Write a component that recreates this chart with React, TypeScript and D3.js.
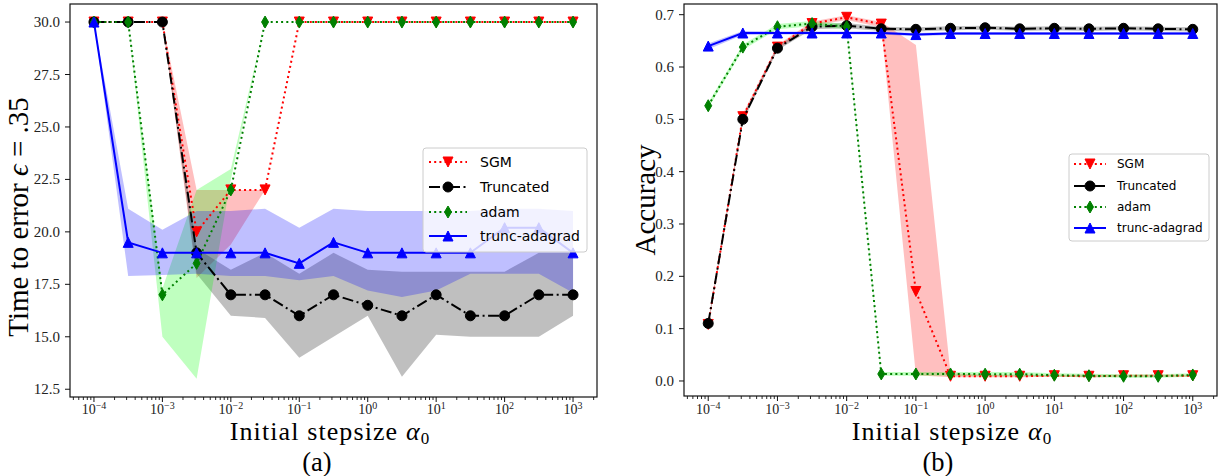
import React from 'react';
import * as d3 from 'd3';

// ---------- data ----------
const stepsizes = [1e-4, 3.162e-4, 1e-3, 3.162e-3, 1e-2, 3.162e-2, 0.1, 0.3162, 1, 3.162, 10, 31.62, 100, 316.2, 1000];
const xTickExponents = [-4, -3, -2, -1, 0, 1, 2, 3];
const seriesNames = ['SGM', 'Truncated', 'adam', 'trunc-adagrad'];

// (a) time to error
const timeSGM = [30, 30, 30, 20, 22, 22, 30, 30, 30, 30, 30, 30, 30, 30, 30];
const timeSGMLo = [30, 30, 30, 17.8, 19.4, 22, 30, 30, 30, 30, 30, 30, 30, 30, 30];
const timeSGMHi = [30, 30, 30, 22, 22, 22, 30, 30, 30, 30, 30, 30, 30, 30, 30];
const timeTrunc = [30, 30, 30, 19, 17, 17, 16, 17, 16.5, 16, 17, 16, 16, 17, 17];
const timeTruncLo = [30, 30, 30, 18, 16, 15.9, 14, 15, 16, 13.1, 15.1, 15, 15, 15, 16];
const timeTruncHi = [30, 30, 30, 19.2, 18.2, 19, 18, 19, 18.2, 18.1, 18.1, 18.1, 18.1, 19, 19];
const timeAdam = [30, 30, 17, 18.5, 22, 30, 30, 30, 30, 30, 30, 30, 30, 30, 30];
const timeAdamLo = [30, 30, 15, 13, 22.5, 30, 30, 30, 30, 30, 30, 30, 30, 30, 30];
const timeAdamHi = [30, 30, 17.3, 22, 23, 30, 30, 30, 30, 30, 30, 30, 30, 30, 30];
const timeAda = [30, 19.5, 19, 19, 19, 19, 18.5, 19.5, 19, 19, 19, 19, 20.2, 20.2, 19];
const timeAdaLo = [30, 17.9, 17.95, 18, 17.9, 17.9, 17.7, 17.9, 17.2, 16.9, 17.2, 18, 18, 18, 17.1];
const timeAdaHi = [30, 21.1, 20.1, 21, 21, 21.1, 20.2, 21.1, 21, 21, 21, 21, 21.1, 21.1, 21];
const timeYTicks = [12.5, 15, 17.5, 20, 22.5, 25, 27.5, 30];

// (b) accuracy
const accSGM = [0.108, 0.505, 0.638, 0.683, 0.695, 0.682, 0.171, 0.009, 0.009, 0.009, 0.010, 0.009, 0.010, 0.010, 0.010];
const accSGMLo = [0.104, 0.500, 0.634, 0.679, 0.690, 0.676, 0.011, 0.007, 0.007, 0.007, 0.008, 0.007, 0.008, 0.008, 0.008];
const accSGMHi = [0.112, 0.510, 0.642, 0.687, 0.699, 0.686, 0.642, 0.015, 0.012, 0.012, 0.012, 0.012, 0.012, 0.012, 0.012];
const accTrunc = [0.110, 0.500, 0.636, 0.677, 0.679, 0.673, 0.672, 0.674, 0.675, 0.673, 0.674, 0.673, 0.674, 0.673, 0.672];
const accTruncLo = [0.106, 0.495, 0.632, 0.672, 0.674, 0.669, 0.668, 0.670, 0.671, 0.669, 0.670, 0.669, 0.670, 0.669, 0.668];
const accTruncHi = [0.114, 0.505, 0.640, 0.682, 0.684, 0.677, 0.676, 0.678, 0.679, 0.677, 0.678, 0.677, 0.678, 0.677, 0.676];
const accAdam = [0.526, 0.638, 0.677, 0.683, 0.677, 0.0134, 0.0134, 0.0134, 0.013, 0.013, 0.011, 0.010, 0.009, 0.009, 0.0115];
const accAdamLo = [0.521, 0.633, 0.672, 0.678, 0.672, 0.010, 0.010, 0.010, 0.009, 0.009, 0.008, 0.007, 0.006, 0.006, 0.008];
const accAdamHi = [0.531, 0.643, 0.682, 0.688, 0.682, 0.017, 0.017, 0.017, 0.017, 0.017, 0.015, 0.014, 0.013, 0.013, 0.015];
const accAda = [0.640, 0.665, 0.665, 0.665, 0.665, 0.665, 0.662, 0.664, 0.664, 0.664, 0.664, 0.664, 0.664, 0.664, 0.664];
const accAdaLo = [0.634, 0.661, 0.662, 0.662, 0.662, 0.662, 0.659, 0.661, 0.661, 0.661, 0.661, 0.661, 0.661, 0.661, 0.661];
const accAdaHi = [0.645, 0.669, 0.668, 0.668, 0.668, 0.668, 0.665, 0.667, 0.667, 0.667, 0.667, 0.667, 0.667, 0.667, 0.667];
const accYTicks = [0, 0.1, 0.2, 0.3, 0.4, 0.5, 0.6, 0.7];

// ---------- styles ----------
const styles = [
  { color: '#ff0000', fill: 'rgba(255,0,0,0.25)', dash: '2,3.2', marker: 'v' },
  { color: '#000000', fill: 'rgba(0,0,0,0.25)', dash: '11,3.5,2,3.5', marker: 'o' },
  { color: '#008000', fill: 'rgba(0,255,0,0.25)', dash: '2,3.2', marker: 'd' },
  { color: '#0000ff', fill: 'rgba(0,0,255,0.25)', dash: null, marker: '^' },
];

const SERIF = '"Liberation Serif", "DejaVu Serif", serif';
const SANS = '"DejaVu Sans", sans-serif';

function Marker({ type, cx, cy, color, s = 10 }) {
  const h = s / 2;
  if (type === 'o') return <circle cx={cx} cy={cy} r={h} fill={color} stroke={color} strokeWidth={1} />;
  let pts;
  if (type === 'v') pts = [[cx - h, cy - h], [cx + h, cy - h], [cx, cy + h]];
  else if (type === '^') pts = [[cx, cy - h], [cx - h, cy + h], [cx + h, cy + h]];
  else pts = [[cx, cy - h - 1], [cx + 0.35 * s, cy], [cx, cy + h + 1], [cx - 0.35 * s, cy]];
  return <polygon points={pts.map(p => p.join(',')).join(' ')} fill={color} stroke={color} strokeWidth={1} strokeLinejoin="miter" />;
}

function Panel(props) {
  const { x0, x1, y0, y1, yDomain, yTicks, yFmt, series, legend, ylabel, ylabelPos, xlabelX, caption, captionX } = props;
  const x = d3.scaleLog().domain([Math.pow(10, -4.35), Math.pow(10, 3.35)]).range([x0, x1]);
  const y = d3.scaleLinear().domain(yDomain).range([y1, y0]);
  const minor = [];
  for (let e = -5; e <= 3; e++) for (let m = 2; m <= 9; m++) {
    const v = m * Math.pow(10, e);
    if (x(v) > x0 && x(v) < x1) minor.push(v);
  }
  const line = d3.line().x((_, i) => x(stepsizes[i])).y(d => y(d));
  return (
    <g>
      {series.map((s, k) => {
        const area = d3.area().x((_, i) => x(stepsizes[i])).y0((_, i) => y(s.lo[i])).y1(d => y(d));
        return <path key={'a' + k} d={area(s.hi)} fill={styles[k].fill} stroke="none" />;
      })}
      {series.map((s, k) => (
        <g key={'l' + k}>
          <path d={line(s.mean)} fill="none" stroke={styles[k].color} strokeWidth={2}
            strokeDasharray={styles[k].dash || undefined} />
          {s.mean.map((v, i) => (
            <Marker key={i} type={styles[k].marker} cx={x(stepsizes[i])} cy={y(v)} color={styles[k].color} />
          ))}
        </g>
      ))}
      {/* frame */}
      <rect x={x0} y={y0} width={x1 - x0} height={y1 - y0} fill="none" stroke="#111" strokeWidth={1.2} />
      {/* x ticks */}
      {minor.map((v, i) => <line key={'m' + i} x1={x(v)} x2={x(v)} y1={y1} y2={y1 + 3} stroke="#111" strokeWidth={0.9} />)}
      {xTickExponents.map(e => {
        const px = x(Math.pow(10, e));
        return (
          <g key={'xt' + e}>
            <line x1={px} x2={px} y1={y1} y2={y1 + 5} stroke="#111" strokeWidth={1} />
            <text x={px} y={414} textAnchor="middle" fontFamily={SERIF} fontSize={14} fill="#222">
              <tspan>10</tspan>
              <tspan dy={-5.5} fontSize={10}>{e < 0 ? '\u2212' + (-e) : String(e)}</tspan>
            </text>
          </g>
        );
      })}
      {/* y ticks */}
      {yTicks.map(t => (
        <g key={'yt' + t}>
          <line x1={x0 - 5} x2={x0} y1={y(t)} y2={y(t)} stroke="#111" strokeWidth={1} />
          <text x={x0 - 10} y={y(t) + 5} textAnchor="end" fontFamily={SERIF} fontSize={15} fill="#222">{yFmt(t)}</text>
        </g>
      ))}
      {/* labels */}
      <text transform={`translate(${ylabelPos[0]},${ylabelPos[1]}) rotate(-90)`} textAnchor="middle" fontFamily={SERIF} fontSize={29} fill="#000">{ylabel}</text>
      <text x={xlabelX} y={440} textAnchor="middle" fontFamily={SERIF} fontSize={26} letterSpacing={1.1} fill="#000">
        <tspan>Initial stepsize </tspan>
        <tspan fontStyle="italic">α</tspan>
        <tspan dy={4} fontSize={17}>0</tspan>
      </text>
      <text x={captionX} y={471} textAnchor="middle" fontFamily={SERIF} fontSize={26.5} fill="#000">{caption}</text>
      {/* legend */}
      <g>
        <rect x={legend.x} y={legend.y} width={legend.w} height={legend.h} rx={3} ry={3}
          fill="rgba(255,255,255,0.8)" stroke="#cccccc" strokeWidth={1} />
        {seriesNames.map((n, k) => {
          const ry = legend.rows[k];
          const mx = (legend.hx0 + legend.hx1) / 2;
          return (
            <g key={'lg' + k}>
              <line x1={legend.hx0} x2={legend.hx1} y1={ry} y2={ry} stroke={styles[k].color} strokeWidth={2}
                strokeDasharray={styles[k].dash || undefined} />
              <Marker type={styles[k].marker} cx={mx} cy={ry} color={styles[k].color} />
              <text x={legend.tx} y={ry + legend.fs * 0.36} fontFamily={SANS} fontSize={legend.fs} fill="#000">{n}</text>
            </g>
          );
        })}
      </g>
    </g>
  );
}

export default function App() {
  const leftSeries = [
    { mean: timeSGM, lo: timeSGMLo, hi: timeSGMHi },
    { mean: timeTrunc, lo: timeTruncLo, hi: timeTruncHi },
    { mean: timeAdam, lo: timeAdamLo, hi: timeAdamHi },
    { mean: timeAda, lo: timeAdaLo, hi: timeAdaHi },
  ];
  const rightSeries = [
    { mean: accSGM, lo: accSGMLo, hi: accSGMHi },
    { mean: accTrunc, lo: accTruncLo, hi: accTruncHi },
    { mean: accAdam, lo: accAdamLo, hi: accAdamHi },
    { mean: accAda, lo: accAdaLo, hi: accAdaHi },
  ];
  return (
    <div style={{ position: 'absolute', left: 0, top: 0 }}>
      <svg width={1223} height={476} style={{ display: 'block', background: '#fff' }}>
        <Panel x0={70} x1={597} y0={4} y1={397} yDomain={[12.13, 30.86]} yTicks={timeYTicks}
          yFmt={t => t.toFixed(1)} series={leftSeries}
          legend={{ x: 423, y: 148, w: 164, h: 104, rows: [162, 187, 212, 236], hx0: 429, hx1: 467, tx: 480, fs: 14 }}
          ylabel={<><tspan>Time to error </tspan><tspan fontStyle="italic">ϵ</tspan><tspan> = .35</tspan></>}
          ylabelPos={[28, 217]} xlabelX={330} caption="(a)" captionX={317} />
        <Panel x0={684} x1={1217} y0={4} y1={396} yDomain={[-0.0287, 0.7204]} yTicks={accYTicks}
          yFmt={t => t.toFixed(1)} series={rightSeries}
          legend={{ x: 1069, y: 154, w: 140, h: 87, rows: [164, 186, 207, 228], hx0: 1074, hx1: 1106, tx: 1117, fs: 12 }}
          ylabel="Accuracy" ylabelPos={[655, 200]} xlabelX={952} caption="(b)" captionX={938} />
      </svg>
    </div>
  );
}
